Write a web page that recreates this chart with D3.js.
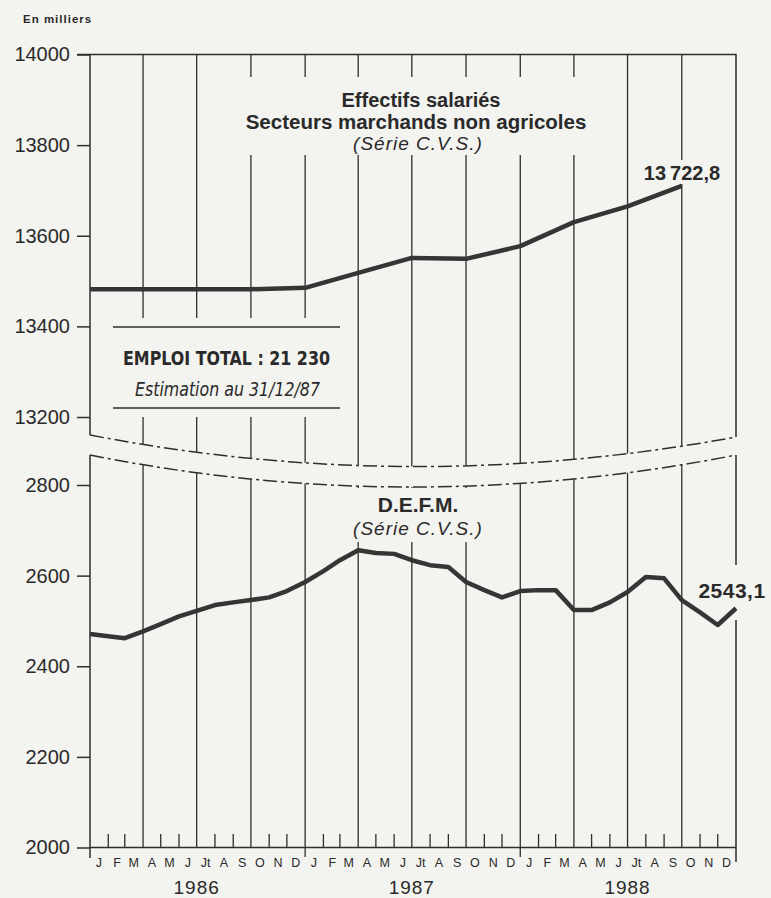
<!DOCTYPE html>
<html>
<head>
<meta charset="utf-8">
<script src="https://cdn.jsdelivr.net/npm/d3@7"></script>
<style>
  body { margin: 0; background: #f3f3ef; }
  svg { display: block; }
  text { font-family: "Liberation Sans", Arial, sans-serif; fill: #2a2a2a; }
  .narrow { font-family: "Liberation Sans Narrow", "DejaVu Sans Condensed", "Liberation Sans", sans-serif; font-stretch: condensed; }
</style>
</head>
<body>
<div class="chart"></div>
<script>
'use strict';

/* Effectifs salariés, secteurs marchands non agricoles (CVS), milliers, par trimestre */
var effectifs = [13482, 13482, 13482, 13482, 13485, 13518, 13551, 13549, 13577, 13630, 13665, 13710];

/* D.E.F.M. (CVS), milliers, par mois (jan. 1986 -> jan. 1989) */
var defm = [2471, 2466, 2462, 2477, 2493, 2510, 2522, 2535, 2541, 2546, 2552, 2566,
            2586, 2610, 2634, 2656, 2650, 2648, 2634, 2623, 2619, 2586, 2568, 2552,
            2566, 2568, 2568, 2524, 2524, 2541, 2564, 2597, 2594, 2546, 2519, 2491, 2528];

var topTicks = [13200, 13400, 13600, 13800, 14000];
var botTicks = [2000, 2200, 2400, 2600, 2800];
var monthLabels = ['J', 'F', 'M', 'A', 'M', 'J', 'Jt', 'A', 'S', 'O', 'N', 'D'];
var years = [1986, 1987, 1988];
var lastTop = '13\u2009722,8';
var lastBot = '2543,1';

var width = 771, height = 898;
var bg = '#f3f3ef', ink = '#2e2e2e';
var x0 = 90, x1 = 736;

var svg = d3.select('.chart').append('svg')
  .attr('width', width)
  .attr('height', height);

svg.append('rect').attr('width', width).attr('height', height).attr('fill', bg);

var start = new Date(1986, 0, 1), end = new Date(1989, 0, 1);
var x = d3.scaleTime().domain([start, end]).range([x0, x1]);
var yTop = d3.scaleLinear().domain([13200, 14000]).range([417, 54.5]);
var yBot = d3.scaleLinear().domain([2000, 2800]).range([847.5, 485]);

var allMonths = d3.timeMonth.range(start, end);   // 36 month starts
var quarterLines = allMonths.filter(function(d) { return d.getMonth() % 3 === 0 && +d !== +start; });

// clipping of the two panels by the dash-dot break lines
var topBreak = 'M' + x0 + ',435 Q410,497 ' + x1 + ',437';
var botBreak = 'M' + x0 + ',455 Q410,519 ' + x1 + ',455';
var defs = svg.append('defs');
defs.append('clipPath').attr('id', 'clipTop')
  .append('path').attr('d', 'M' + x0 + ',54.5 H' + x1 + ' V437 Q410,497 ' + x0 + ',435 Z');
defs.append('clipPath').attr('id', 'clipBot')
  .append('path').attr('d', botBreak + ' V847.5 H' + x0 + ' Z');

// vertical quarter lines
var gTop = svg.append('g').attr('clip-path', 'url(#clipTop)');
var gBot = svg.append('g').attr('clip-path', 'url(#clipBot)');
[gTop, gBot].forEach(function(g) {
  g.selectAll('line.q')
    .data(quarterLines).enter()
    .append('line')
      .attr('x1', function(d) { return x(d); })
      .attr('x2', function(d) { return x(d); })
      .attr('y1', 40).attr('y2', 848)
      .attr('stroke', ink).attr('stroke-width', 1.3);
});

// year boundaries run below the axis
svg.selectAll('line.yr')
  .data(quarterLines.filter(function(d) { return d.getMonth() === 0; })).enter()
  .append('line')
    .attr('x1', function(d) { return x(d); })
    .attr('x2', function(d) { return x(d); })
    .attr('y1', 847).attr('y2', 857)
    .attr('stroke', ink).attr('stroke-width', 1.3);

// knock-outs behind the labels
var knock = [[240, 77, 355, 78], [636, 160, 92, 24], [108, 318, 237, 99], [340, 488, 160, 54], [692, 565, 79, 55]];
svg.selectAll('rect.k')
  .data(knock).enter()
  .append('rect')
    .attr('x', function(d) { return d[0]; })
    .attr('y', function(d) { return d[1]; })
    .attr('width', function(d) { return d[2]; })
    .attr('height', function(d) { return d[3]; })
    .attr('fill', bg);

// frame
var frame = svg.append('g').attr('fill', 'none').attr('stroke', ink).attr('stroke-width', 1.5);
frame.append('path').attr('d', 'M77,54.5 H' + x1 + ' V437');
frame.append('path').attr('d', 'M' + x0 + ',54.5 V435');
frame.append('path').attr('d', 'M' + x0 + ',455 V858');
frame.append('path').attr('d', 'M' + x1 + ',455 V565 M' + x1 + ',620 V862');
frame.append('path').attr('d', 'M' + x0 + ',847.5 H' + x1);

// break lines
svg.selectAll('path.brk')
  .data([topBreak, botBreak]).enter()
  .append('path')
    .attr('d', function(d) { return d; })
    .attr('fill', 'none').attr('stroke', ink).attr('stroke-width', 1.5)
    .attr('stroke-dasharray', '14,4,3,4');

// y axes
function yAxis(scale, ticks) {
  var g = svg.append('g').attr('transform', 'translate(' + x0 + ',0)')
    .call(d3.axisLeft(scale).tickValues(ticks).tickSize(13).tickPadding(7).tickFormat(d3.format('d')));
  g.select('.domain').remove();
  g.selectAll('line').attr('stroke', ink).attr('stroke-width', 1.5);
  g.selectAll('text').attr('font-size', 20).attr('fill', '#222')
    .style('font-family', '"Liberation Sans", Arial, sans-serif');
}
yAxis(yTop, topTicks);
yAxis(yBot, botTicks);

// month ticks and labels
svg.selectAll('line.m')
  .data(allMonths.filter(function(d) { return d.getMonth() % 3 !== 0; })).enter()
  .append('line')
    .attr('x1', function(d) { return x(d); })
    .attr('x2', function(d) { return x(d); })
    .attr('y1', 834).attr('y2', 847.5)
    .attr('stroke', ink).attr('stroke-width', 1.3);

svg.selectAll('text.m')
  .data(allMonths).enter()
  .append('text')
    .attr('x', function(d) { return x(d3.timeDay.offset(d, 15)); })
    .attr('y', 867)
    .attr('text-anchor', 'middle')
    .attr('font-size', 12.5)
    .text(function(d) { return monthLabels[d.getMonth()]; });

svg.selectAll('text.yr')
  .data(years).enter()
  .append('text')
    .attr('x', function(d) { return x(new Date(d, 6, 1)); })
    .attr('y', 894)
    .attr('text-anchor', 'middle')
    .attr('font-size', 19)
    .attr('letter-spacing', 1)
    .text(function(d) { return d; });

svg.append('text')
  .attr('x', 23).attr('y', 23)
  .attr('font-size', 11.5).attr('font-weight', 'bold').attr('letter-spacing', 1)
  .text('En milliers');

// titles
function title(xc, y, txt, size, weight, style, ls) {
  svg.append('text')
    .attr('x', xc).attr('y', y)
    .attr('text-anchor', 'middle')
    .attr('font-size', size)
    .attr('font-weight', weight)
    .attr('font-style', style)
    .attr('letter-spacing', ls || 0)
    .text(txt);
}
title(421, 107, 'Effectifs salariés', 20, 'bold', 'normal');
title(416, 129, 'Secteurs marchands non agricoles', 20.5, 'bold', 'normal');
title(418, 150, '(Série C.V.S.)', 19, 'normal', 'italic', 1);
title(418, 512, 'D.E.F.M.', 21, 'bold', 'normal');
title(418, 535, '(Série C.V.S.)', 19, 'normal', 'italic', 1);

svg.append('text').attr('x', 682).attr('y', 180).attr('text-anchor', 'middle')
  .attr('font-size', 20).attr('font-weight', 'bold').text(lastTop);
svg.append('text').attr('x', 732).attr('y', 598).attr('text-anchor', 'middle')
  .attr('font-size', 21).attr('font-weight', 'bold').attr('letter-spacing', 0.5).text(lastBot);

// inset
var inset = svg.append('g');
inset.selectAll('line')
  .data([327, 408]).enter()
  .append('line')
    .attr('x1', 113).attr('x2', 340)
    .attr('y1', function(d) { return d; }).attr('y2', function(d) { return d; })
    .attr('stroke', ink).attr('stroke-width', 1.6);
inset.append('text').attr('class', 'narrow')
  .attr('x', 123).attr('y', 365)
  .attr('font-size', 20).attr('font-weight', 'bold')
  .attr('textLength', 207).attr('lengthAdjust', 'spacingAndGlyphs')
  .text('EMPLOI TOTAL : 21 230');
inset.append('text').attr('class', 'narrow')
  .attr('x', 135).attr('y', 396)
  .attr('font-size', 19).attr('font-style', 'italic')
  .attr('textLength', 185).attr('lengthAdjust', 'spacingAndGlyphs')
  .text('Estimation au 31/12/87');

// series
var lineTop = d3.line()
  .x(function(d, i) { return x(d3.timeMonth.offset(start, 3 * i)); })
  .y(function(d) { return yTop(d); });
var lineBot = d3.line()
  .x(function(d, i) { return x(d3.timeMonth.offset(start, i)); })
  .y(function(d) { return yBot(d); });

svg.append('path').datum(effectifs)
  .attr('d', lineTop)
  .attr('fill', 'none').attr('stroke', '#353535').attr('stroke-width', 4.5)
  .attr('stroke-linejoin', 'round');
svg.append('path').datum(defm)
  .attr('d', lineBot)
  .attr('fill', 'none').attr('stroke', '#353535').attr('stroke-width', 4.5)
  .attr('stroke-linejoin', 'round');
</script>
</body>
</html>
